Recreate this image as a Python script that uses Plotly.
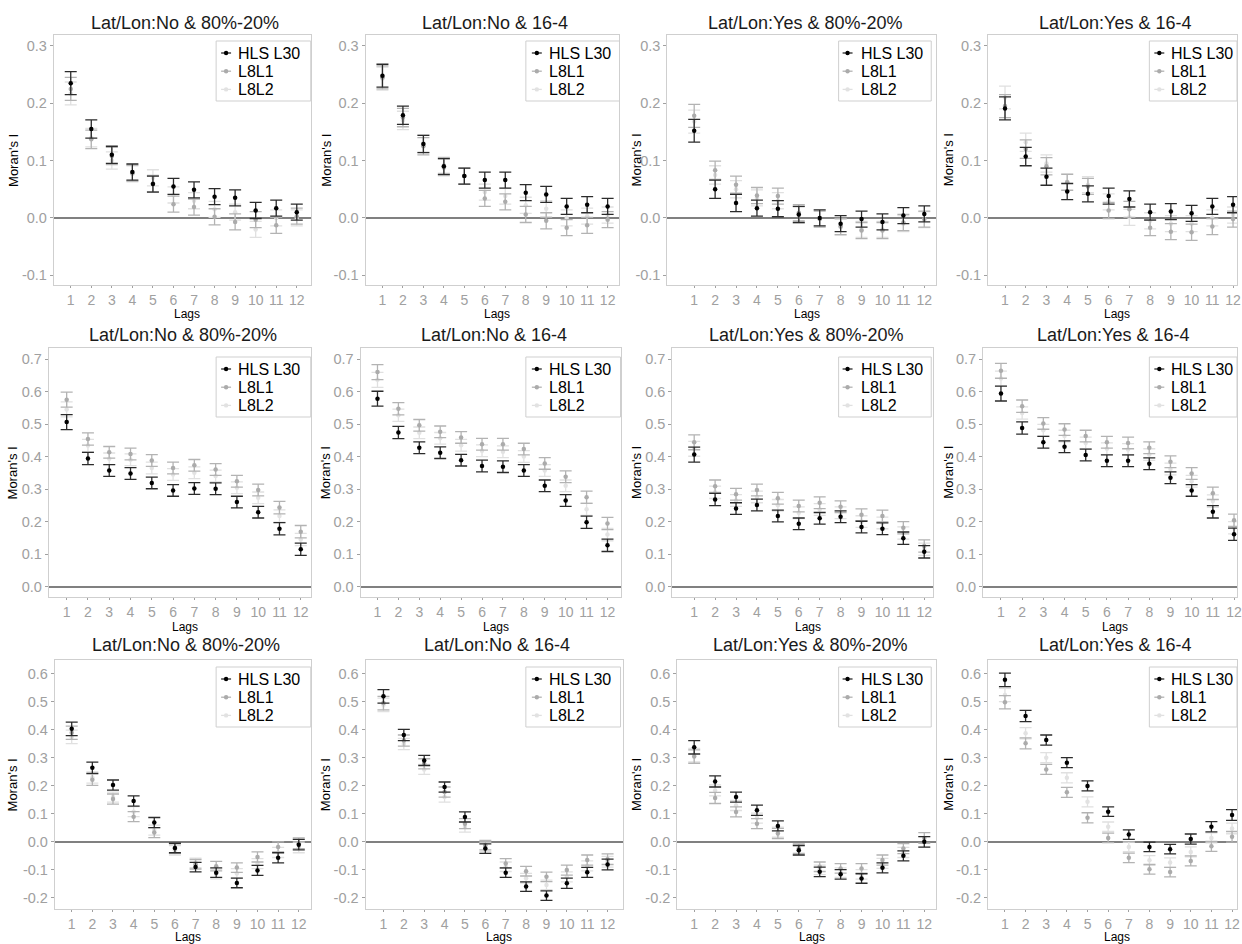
import plotly.graph_objects as go

W, H = 1242, 944
LAGS = list(range(1, 13))
SERIES = ["HLS L30", "L8L1", "L8L2"]
TITLES = ["Lat/Lon:No & 80%-20%", "Lat/Lon:No & 16-4",
          "Lat/Lon:Yes & 80%-20%", "Lat/Lon:Yes & 16-4"] * 3

# ---------------- data (Moran's I by lag) ----------------
p1_hls = [0.235, 0.155, 0.110, 0.080, 0.059, 0.055, 0.049, 0.037, 0.035, 0.013, 0.017, 0.010]
p1_l8l1 = [0.225, 0.137, 0.108, 0.078, 0.060, 0.024, 0.019, 0.002, -0.007, -0.003, -0.013, 0.003]
p1_l8l2 = [0.217, 0.140, 0.100, 0.077, 0.070, 0.040, 0.030, 0.015, 0.010, -0.020, 0.000, 0.000]

p2_hls = [0.248, 0.179, 0.129, 0.090, 0.073, 0.066, 0.066, 0.044, 0.041, 0.020, 0.023, 0.020]
p2_l8l1 = [0.245, 0.175, 0.125, 0.088, 0.073, 0.034, 0.028, 0.006, -0.005, -0.017, -0.013, -0.003]
p2_l8l2 = [0.243, 0.170, 0.130, 0.092, 0.073, 0.045, 0.038, 0.022, 0.016, 0.000, 0.003, 0.005]

p3_hls = [0.152, 0.050, 0.026, 0.017, 0.016, 0.006, 0.000, -0.010, -0.002, -0.007, 0.004, 0.007]
p3_l8l1 = [0.178, 0.083, 0.058, 0.039, 0.038, 0.009, -0.002, -0.015, -0.022, -0.022, -0.008, -0.002]
p3_l8l2 = [0.168, 0.075, 0.050, 0.035, 0.030, 0.005, 0.000, -0.016, -0.020, -0.020, -0.010, -0.003]

p4_hls = [0.191, 0.107, 0.072, 0.046, 0.042, 0.038, 0.033, 0.010, 0.011, 0.008, 0.020, 0.023]
p4_l8l1 = [0.195, 0.120, 0.090, 0.062, 0.055, 0.013, 0.015, -0.017, -0.024, -0.025, -0.015, -0.002]
p4_l8l2 = [0.210, 0.132, 0.095, 0.063, 0.058, 0.028, 0.001, -0.005, -0.010, -0.010, 0.000, 0.005]

p5_hls = [0.506, 0.394, 0.357, 0.348, 0.319, 0.296, 0.302, 0.301, 0.260, 0.229, 0.178, 0.115]
p5_l8l1 = [0.575, 0.454, 0.413, 0.408, 0.388, 0.365, 0.373, 0.360, 0.324, 0.297, 0.243, 0.169]
p5_l8l2 = [0.545, 0.434, 0.393, 0.390, 0.365, 0.345, 0.350, 0.340, 0.304, 0.273, 0.217, 0.145]

p6_hls = [0.578, 0.474, 0.427, 0.412, 0.389, 0.371, 0.369, 0.357, 0.310, 0.265, 0.198, 0.127]
p6_l8l1 = [0.660, 0.547, 0.496, 0.476, 0.459, 0.438, 0.438, 0.423, 0.379, 0.338, 0.275, 0.194]
p6_l8l2 = [0.636, 0.527, 0.473, 0.456, 0.435, 0.418, 0.415, 0.400, 0.357, 0.310, 0.238, 0.160]

p7_hls = [0.406, 0.268, 0.240, 0.251, 0.217, 0.193, 0.210, 0.215, 0.183, 0.178, 0.149, 0.107]
p7_l8l1 = [0.444, 0.309, 0.284, 0.297, 0.272, 0.248, 0.258, 0.246, 0.221, 0.217, 0.181, 0.125]
p7_l8l2 = [0.424, 0.290, 0.265, 0.276, 0.250, 0.227, 0.237, 0.227, 0.200, 0.196, 0.165, 0.115]

p8_hls = [0.594, 0.488, 0.444, 0.430, 0.405, 0.387, 0.387, 0.378, 0.335, 0.296, 0.230, 0.161]
p8_l8l1 = [0.664, 0.555, 0.502, 0.483, 0.463, 0.444, 0.442, 0.427, 0.384, 0.348, 0.287, 0.204]
p8_l8l2 = [0.640, 0.534, 0.481, 0.463, 0.442, 0.424, 0.422, 0.406, 0.362, 0.324, 0.263, 0.181]

p9_hls = [0.404, 0.265, 0.203, 0.146, 0.069, -0.022, -0.090, -0.110, -0.147, -0.102, -0.057, -0.010]
p9_l8l1 = [0.390, 0.222, 0.153, 0.090, 0.033, -0.024, -0.080, -0.087, -0.092, -0.054, -0.018, -0.005]
p9_l8l2 = [0.375, 0.230, 0.160, 0.108, 0.042, -0.030, -0.075, -0.115, -0.113, -0.078, -0.038, -0.020]

p10_hls = [0.520, 0.382, 0.291, 0.196, 0.089, -0.024, -0.110, -0.160, -0.192, -0.148, -0.109, -0.081]
p10_l8l1 = [0.496, 0.362, 0.279, 0.178, 0.065, -0.012, -0.077, -0.105, -0.125, -0.101, -0.065, -0.062]
p10_l8l2 = [0.490, 0.350, 0.259, 0.160, 0.053, -0.018, -0.089, -0.130, -0.154, -0.125, -0.086, -0.071]

p11_hls = [0.338, 0.216, 0.160, 0.113, 0.057, -0.030, -0.107, -0.116, -0.131, -0.093, -0.050, 0.000]
p11_l8l1 = [0.305, 0.157, 0.107, 0.065, 0.030, -0.024, -0.089, -0.095, -0.095, -0.065, -0.024, 0.014]
p11_l8l2 = [0.310, 0.184, 0.130, 0.085, 0.035, -0.030, -0.100, -0.110, -0.116, -0.077, -0.038, 0.000]

p12_hls = [0.579, 0.450, 0.364, 0.283, 0.200, 0.108, 0.026, -0.018, -0.026, 0.010, 0.054, 0.096]
p12_l8l1 = [0.499, 0.352, 0.259, 0.177, 0.086, 0.014, -0.057, -0.098, -0.108, -0.068, -0.016, 0.018]
p12_l8l2 = [0.525, 0.388, 0.301, 0.229, 0.143, 0.054, -0.018, -0.066, -0.074, -0.036, 0.014, 0.048]

# half-width of the error bars, per row of panels
err_row1 = [0.020, 0.016, 0.015, 0.014, 0.014, 0.014, 0.014, 0.014, 0.014, 0.014, 0.014, 0.014]
err_row2 = [0.023, 0.019, 0.018, 0.018, 0.018, 0.018, 0.018, 0.018, 0.018, 0.018, 0.019, 0.019]
err_row3 = [0.024, 0.020, 0.018, 0.018, 0.018, 0.017, 0.017, 0.017, 0.017, 0.018, 0.018, 0.019]

PANELS = [
    (p1_hls, p1_l8l1, p1_l8l2, err_row1), (p2_hls, p2_l8l1, p2_l8l2, err_row1),
    (p3_hls, p3_l8l1, p3_l8l2, err_row1), (p4_hls, p4_l8l1, p4_l8l2, err_row1),
    (p5_hls, p5_l8l1, p5_l8l2, err_row2), (p6_hls, p6_l8l1, p6_l8l2, err_row2),
    (p7_hls, p7_l8l1, p7_l8l2, err_row2), (p8_hls, p8_l8l1, p8_l8l2, err_row2),
    (p9_hls, p9_l8l1, p9_l8l2, err_row3), (p10_hls, p10_l8l1, p10_l8l2, err_row3),
    (p11_hls, p11_l8l1, p11_l8l2, err_row3), (p12_hls, p12_l8l1, p12_l8l2, err_row3),
]

# ---------------- layout geometry (pixels) ----------------
# left, right, top, bottom of each plotting panel, and x range
GEOM = [
    (54, 312, 35, 285, [0.175, 12.68]),
    (367, 622, 35, 285, [0.173, 12.58]),
    (670, 940, 35, 285, [-0.286, 12.57]),
    (992, 1242, 35, 285, [0.18, 12.19]),
    (49, 312, 348, 597, [0.16, 12.47]),
    (362, 624, 348, 597, [0.19, 12.67]),
    (675, 937, 348, 597, [-0.048, 12.43]),
    (987, 1242, 348, 597, [0.154, 12.14]),
    (55, 312, 660, 909, [0.18, 12.58]),
    (367, 626, 660, 909, [0.12, 12.78]),
    (680, 940, 660, 909, [0.19, 12.57]),
    (992, 1242, 660, 909, [0.18, 12.24]),
]
ROW_YRANGE = [[-0.117, 0.319], [-0.032, 0.734], [-0.24, 0.65]]
ROW_YTICKS = [[-0.1, 0.0, 0.1, 0.2, 0.3],
              [0.0, 0.1, 0.2, 0.3, 0.4, 0.5, 0.6, 0.7],
              [-0.2, -0.1, 0.0, 0.1, 0.2, 0.3, 0.4, 0.5, 0.6]]
ROW_TITLE_Y = [23, 335, 645]
ROW_XLAB_Y = [314, 627, 937]
COL_YLAB_X = [13, 327, 639, 952]
COL_LEG = [  # box left, glyph x, text x, box right
    (217, 227, 237, 312), (528, 539, 549, 623), (842, 851, 862, 935), (1154, 1164, 1174, 1260)]
ROW_LEG_TOP = [41, 357, 667]
LEG_STEP = 18.2

COLORS = {"HLS L30": "#000000", "L8L1": "#ababab", "L8L2": "#e2e2e2"}
ERRCOL = {"HLS L30": "#2b2b2b", "L8L1": "#b3b3b3", "L8L2": "#e0e0e0"}
FONT = "Liberation Sans, Arial, sans-serif"


def px(x):
    return x / W


def py(y):
    return 1 - y / H


fig = go.Figure()
layout = dict(width=W, height=H, margin=dict(l=0, r=0, t=0, b=0),
              paper_bgcolor="white", plot_bgcolor="white", showlegend=False,
              font=dict(family=FONT))
annotations, shapes = [], []

for i, ((hls, l1, l2, err), (L, R, T, B, xr)) in enumerate(zip(PANELS, GEOM)):
    row, col = divmod(i, 4)
    sfx = "" if i == 0 else str(i + 1)
    xa, ya = "x" + sfx, "y" + sfx
    vals = {"HLS L30": hls, "L8L1": l1, "L8L2": l2}
    for name in ["L8L2", "L8L1", "HLS L30"]:
        fig.add_trace(go.Scatter(
            x=LAGS, y=vals[name], mode="markers", name=name,
            legendgroup=name, showlegend=False,
            marker=dict(color=COLORS[name], size=4.5),
            error_y=dict(type="data", array=err, color=ERRCOL[name],
                         thickness=1.3, width=6),
            xaxis=xa, yaxis=ya))
    layout["xaxis" + sfx] = dict(
        domain=[px(L), px(R)], range=xr, anchor=ya, tickmode="array",
        tickvals=LAGS, ticktext=[str(v) for v in LAGS], showgrid=False,
        zeroline=False, showline=True, mirror=True, linecolor="#cfcfcf",
        linewidth=1, ticks="outside", ticklen=2, tickcolor="#a0a0a0",
        ticklabeloverflow="allow",
        tickfont=dict(size=14, color="#a0a0a0", family=FONT))
    layout["yaxis" + sfx] = dict(
        domain=[py(B), py(T)], range=ROW_YRANGE[row], anchor=xa,
        tickmode="array", tickvals=ROW_YTICKS[row],
        ticktext=["%.1f" % v for v in ROW_YTICKS[row]], showgrid=False,
        zeroline=True, zerolinecolor="#808080", zerolinewidth=1.6,
        showline=True, mirror=True, linecolor="#cfcfcf", linewidth=1,
        ticks="outside", ticklen=3, tickcolor="#a0a0a0",
        ticklabeloverflow="allow",
        tickfont=dict(size=14.5, color="#a0a0a0", family=FONT))
    cx = (L + R) / 2 + 3
    annotations.append(dict(text=TITLES[i], x=px(cx), y=py(ROW_TITLE_Y[row]),
                            xref="paper", yref="paper", showarrow=False,
                            xanchor="center", yanchor="middle",
                            font=dict(size=18, color="#1a1a1a", family=FONT)))
    annotations.append(dict(text="Lags", x=px(cx + 2), y=py(ROW_XLAB_Y[row]),
                            xref="paper", yref="paper", showarrow=False,
                            xanchor="center", yanchor="middle",
                            font=dict(size=12, color="#000000", family=FONT)))
    annotations.append(dict(text="Moran's I", x=px(COL_YLAB_X[col]),
                            y=py((T + B) / 2), xref="paper", yref="paper",
                            showarrow=False, textangle=-90, xanchor="center",
                            yanchor="middle",
                            font=dict(size=13, color="#000000", family=FONT)))
    # legend inside the panel
    bl, gx, tx, br = COL_LEG[col]
    br = min(br, R)
    lt = ROW_LEG_TOP[row]
    shapes.append(dict(type="rect", xref="paper", yref="paper",
                       x0=px(bl), x1=px(br), y0=py(lt + 60), y1=py(lt),
                       line=dict(color="#cfcfcf", width=1), fillcolor="white",
                       layer="above"))
    for k, name in enumerate(SERIES):
        ey = lt + 12 + LEG_STEP * k
        shapes.append(dict(type="line", xref="paper", yref="paper",
                           x0=px(gx - 5), x1=px(gx + 5), y0=py(ey), y1=py(ey),
                           line=dict(color=ERRCOL[name], width=1.3),
                           layer="above"))
        shapes.append(dict(type="circle", xref="paper", yref="paper",
                           x0=px(gx - 2.2), x1=px(gx + 2.2),
                           y0=py(ey + 2.2), y1=py(ey - 2.2),
                           line=dict(width=0), fillcolor=COLORS[name],
                           layer="above"))
        annotations.append(dict(text=name, x=px(tx), y=py(ey), xref="paper",
                                yref="paper", showarrow=False,
                                xanchor="left", yanchor="middle",
                                font=dict(size=16, color="#000000", family=FONT)))

layout["annotations"] = annotations
layout["shapes"] = shapes
fig.update_layout(**layout)
fig.write_html("out.html")
